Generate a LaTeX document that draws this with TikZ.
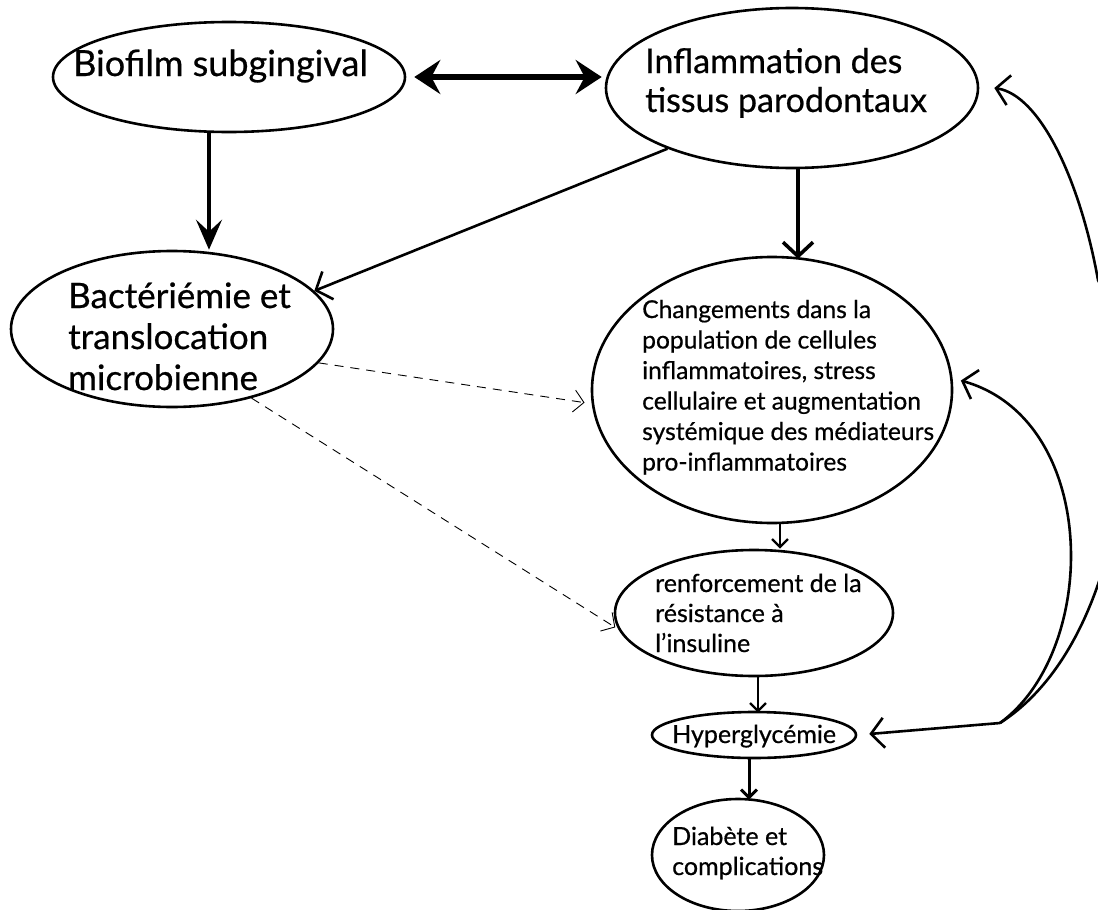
\documentclass[tikz,border=0pt]{standalone}
\usepackage{fontspec}
\setmainfont{Lato}[FakeBold = 0.6]
\usepackage{tikz}
\usetikzlibrary{shapes, arrows.meta}
\usetikzlibrary{positioning}
\tikzstyle{oval} = [ellipse, draw = black, line width = 2.6, inner sep = 0]
\tikzstyle{txt} = [align = left, anchor = base west, inner sep = 0]
\tikzstyle{twoway} = [
  {Stealth[length = 26, width = 34, inset = 9]}-{Stealth[length = 26, width = 34, inset = 9]},
  line width = 6
]
\tikzstyle{heavy} = [-{Stealth[length = 30, width = 26, inset = 12]}, line width = 3.4]
\tikzstyle{vee} = [-{Straight Barb[length = 13, width = 30]}, line width = 2.6]
\tikzstyle{small} = [-{Straight Barb[length = 8, width = 16]}, line width = 2.4]
\tikzstyle{hint} = [-{Straight Barb[length = 10, width = 22]}, line width = 0.9,
  dash pattern = on 9 off 7]
\begin{document}
\begin{tikzpicture}[x = 1pt, y = -1pt]
    \useasboundingbox (0, 0) rectangle (1098, 910);
    % ellipses
    \node [oval, minimum width = 352, minimum height = 110] (bio) at (229, 77) {};
    \node [oval, minimum width = 372, minimum height = 160] (infl) at (792, 88) {};
    \node [oval, minimum width = 322, minimum height = 156] (bact) at (172, 329) {};
    \node [oval, minimum width = 360, minimum height = 266] (chg) at (772, 390) {};
    \node [oval, minimum width = 278, minimum height = 126] (renf) at (754, 613) {};
    \node [oval, minimum width = 204, minimum height = 46] (hyp) at (754, 735) {};
    \node [oval, minimum width = 172, minimum height = 112] (diab) at (738, 855) {};
    % texts (anchored on the last baseline)
    \node [txt, font = \fontsize{36}{41}\selectfont] (bio-t) at (73, 76)
      {Biofilm subgingival};
    \node [txt, font = \fontsize{34}{39}\selectfont] (infl-t) at (645, 112)
      {Inflammation des\\tissus parodontaux};
    \node [txt, font = \fontsize{35}{41}\selectfont] (bact-t) at (68, 390)
      {Bactériémie et\\translocation\\microbienne};
    \node [txt, font = \fontsize{24.6}{30.5}\selectfont] (chg-t) at (642, 470.5)
      {Changements dans la\\population de cellules\\inflammatoires, stress\\cellulaire et augmentation\\systémique des médiateurs\\pro-inflammatoires};
    \node [txt, font = \fontsize{25}{30}\selectfont] (renf-t) at (655, 652)
      {renforcement de la\\résistance à\\l'insuline};
    \node [txt, font = \fontsize{25}{30}\selectfont] (hyp-t) at (672, 743)
      {Hyperglycémie};
    \node [txt, font = \fontsize{25}{30}\selectfont] (diab-t) at (672, 875)
      {Diabète et\\complications};
    % arrows
    \draw [twoway] ([xshift = 8]bio.east) -- ([xshift = -3]infl.west |- bio.east);
    \draw [heavy] ([xshift = -20]bio.south) -- ([xshift = -20]bio.south |- bact.north);
    \draw [vee] (infl.206) -- (bact.15);
    \draw [heavy, -{Straight Barb[length = 14, width = 30]}, line width = 3.6]
      ([xshift = 6]infl.south) -- ([xshift = 6, yshift = -3]infl.south |- chg.north);
    \draw [hint] (bact.-13) -- ([xshift = -7]chg.184);
    \draw [hint] (bact.-41) -- ([xshift = -2]renf.186);
    \draw [small] ([xshift = 8]chg.south) -- ([xshift = 8]chg.south |- renf.north);
    \draw [small] ([xshift = 4]renf.south) -- ([xshift = 4, yshift = -2]renf.south |- hyp.north);
    \draw [small, line width = 3] ([xshift = -5]hyp.south) -- ([xshift = -5, yshift = -2]hyp.south |- diab.north);
    % feedback to the top
    \coordinate (fb) at (1000, 723);
    \draw [vee, shorten > = 12] (fb) -- (hyp.east);
    \draw [vee] (fb) .. controls (1100, 650) and (1100, 420) .. ([xshift = 8]chg.3);
    \draw [vee] (fb) .. controls (1130, 640) and (1150, 380) .. (1098, 280)
      .. controls (1080, 180) and (1040, 95) .. ([xshift = 15]infl.east);
  \end{tikzpicture}
\end{document}
